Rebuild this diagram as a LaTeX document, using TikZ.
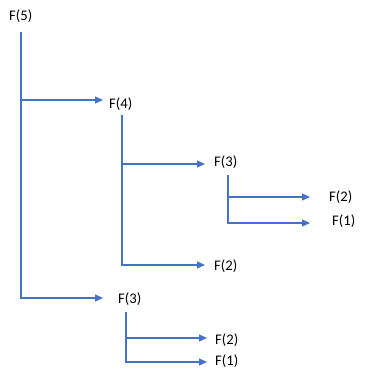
\documentclass[tikz,border=0pt]{standalone}
\usepackage{fontspec}
\setmainfont{Carlito}
\usetikzlibrary{arrows.meta}
\definecolor{lineblue}{HTML}{4472C4}
\tikzset{
  lbl/.style={anchor=west, inner sep=0pt, font=\fontsize{14.67pt}{16pt}\selectfont, text=black},
  arr/.style={draw=lineblue, line width=1.2pt, -{Triangle[length=8pt,width=7pt]}}
}
\begin{document}
\begin{tikzpicture}[x=1pt,y=-1pt]
\useasboundingbox (0,0) rectangle (366,380);
\node[lbl] (f5)  at (9,16)    {F(5)};
\node[lbl] (f4)  at (109,104) {F(4)};
\node[lbl] (f3)  at (214,162) {F(3)};
\node[lbl] (f2)  at (329,197) {F(2)};
\node[lbl] (f1)  at (332,221) {F(1)};
\node[lbl] (f2a) at (214,266) {F(2)};
\node[lbl] (f3b) at (118,299) {F(3)};
\node[lbl] (f2b) at (215,340) {F(2)};
\node[lbl] (f1b) at (215,361) {F(1)};
\draw[arr] ([shift={(12,16)}]f5.west) |- ([shift={(-6,-4)}]f4.west);
\draw[arr] ([shift={(12,16)}]f5.west) |- ([shift={(-15,-1)}]f3b.west);
\draw[arr] ([shift={(13,11)}]f4.west) |- ([shift={(-9,2)}]f3.west);
\draw[arr] ([shift={(13,11)}]f4.west) |- ([shift={(-9,-1)}]f2a.west);
\draw[arr] ([shift={(14,13)}]f3.west) |- ([shift={(-19,0)}]f2.west);
\draw[arr] ([shift={(14,13)}]f3.west) |- ([shift={(-22,2)}]f1.west);
\draw[arr] ([shift={(8,13)}]f3b.west) |- ([shift={(-8,-2)}]f2b.west);
\draw[arr] ([shift={(8,13)}]f3b.west) |- ([shift={(-8,1)}]f1b.west);
\end{tikzpicture}
\end{document}
